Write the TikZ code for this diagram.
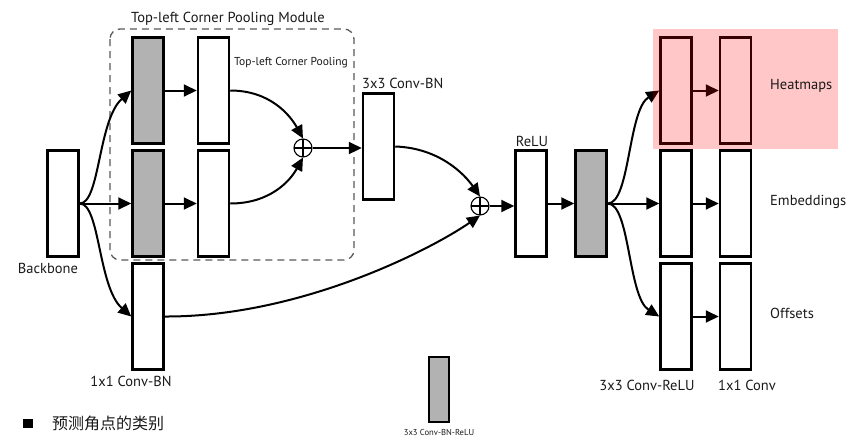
\documentclass[tikz,border=0pt]{standalone}
\usepackage{fontspec}
\setmainfont{PT Sans}
\newfontfamily\cjkfont{Noto Sans CJK SC}
\usetikzlibrary{arrows.meta}

\begin{document}
\begin{tikzpicture}[x=1pt, y=-1pt,
  box/.style = {draw, line width=2.5pt, fill=white, inner sep=0pt,
    minimum width=31pt, minimum height=106pt},
  graybox/.style = {box, fill=black!30},
  plus/.style = {draw, circle, line width=1.1pt, minimum size=18pt, inner sep=0pt,
    path picture={\draw[line width=1.1pt]
      (path picture bounding box.north) -- (path picture bounding box.south)
      (path picture bounding box.west) -- (path picture bounding box.east);}},
  flow/.style = {-{Triangle[length=13pt,width=12pt]}, line width=2pt},
  lbl/.style = {font=\fontsize{14.5}{17}\selectfont, inner sep=0pt, text=black!90}]
  \useasboundingbox (0,0) rectangle (857,440);

  % module frame
  \draw[dashed, dash pattern=on 7pt off 5pt, line width=1.3pt, black!65, rounded corners=10pt]
    (110,29) rectangle (354,260);
  \node[lbl] (modtitle) at (228,19) {Top-left Corner Pooling Module};
  \node[lbl, font=\fontsize{11.5}{13}\selectfont, anchor=west] (pooltitle) at (234,63) {Top-left Corner Pooling};

  % boxes
  \node[box] (backbone) at (63,203.5) {};
  \node[graybox] (gray1) at (148,90.5) {};
  \node[graybox] (gray2) at (148,203.5) {};
  \node[box] (conv1bn) at (148,316.5) {};
  \node[box] (pool1) at (213.5,90.5) {};
  \node[box] (pool2) at (213.5,203.5) {};
  \node[plus] (plus1) at (303,148) {};
  \node[box] (conv3bn) at (378.5,146.5) {};
  \node[plus] (plus2) at (480,206) {};
  \node[box] (relu) at (531,203.5) {};
  \node[graybox] (gray3) at (591,203.5) {};
  \node[box] (heatA) at (676,90.5) {};
  \node[box] (heatB) at (735.5,90.5) {};
  \node[box] (embA) at (676,203.5) {};
  \node[box] (embB) at (735.5,203.5) {};
  \node[box] (offA) at (676,316.5) {};
  \node[box] (offB) at (735.5,316.5) {};

  % connectors
  \draw[flow] (backbone.east) -- (gray2.west);
  \draw[flow] (backbone.east) .. controls (100,203.5) and (98,120) .. (gray1.west);
  \draw[flow] (backbone.east) .. controls (100,203.5) and (98,287) .. (conv1bn.west);
  \draw[flow] (gray1.east) -- (pool1.west);
  \draw[flow] (gray2.east) -- (pool2.west);
  \draw[flow] (pool1.east) .. controls (270,90.5) and (290,115) .. (plus1.north);
  \draw[flow] (pool2.east) .. controls (270,203.5) and (290,181) .. (plus1.south);
  \draw[flow] (plus1.east) -- (plus1.east -| conv3bn.west);
  \draw[flow] (conv3bn.east) .. controls (440,148) and (465,175) .. (plus2.north);
  \draw[flow] (conv1bn.east) .. controls (300,317) and (430,250) .. (plus2.south);
  \draw[flow] (plus2.east) -- (plus2.east -| relu.west);
  \draw[flow] (relu.east) -- (gray3.west);
  \draw[flow] (gray3.east) .. controls (630,203.5) and (628,110) .. (heatA.west);
  \draw[flow] (gray3.east) -- (embA.west);
  \draw[flow] (gray3.east) .. controls (630,203.5) and (628,297) .. (offA.west);
  \draw[flow] (heatA.east) -- (heatB.west);
  \draw[flow] (embA.east) -- (embB.west);
  \draw[flow] (offA.east) -- (offB.west);

  % highlight
  \fill[red, fill opacity=0.22] (653,29) rectangle (838,149);

  % labels
  \node[lbl] (backbonelbl) at (48,268) {Backbone};
  \node[lbl] (conv1lbl) at (131,381) {1x1 Conv-BN};
  \node[lbl, anchor=west] (conv3lbl) at (362,83) {3x3 Conv-BN};
  \node[lbl] (relulbl) at (532,141) {ReLU};
  \node[lbl, anchor=west] (heatlbl) at (770,86) {Heatmaps};
  \node[lbl, anchor=west] (emblbl) at (770,202) {Embeddings};
  \node[lbl, anchor=west] (offlbl) at (770,313) {Offsets};
  \node[lbl] (convrelulbl) at (647,385) {3x3 Conv-ReLU};
  \node[lbl] (convlbl) at (747,385) {1x1 Conv};

  % legend
  \node[draw, line width=1.8pt, fill=black!30, minimum width=20pt, minimum height=65pt, inner sep=0pt]
    (legendbox) at (439,389.5) {};
  \node[lbl, font=\fontsize{8.6}{10}\selectfont] (legendlbl) at (439,432) {3x3 Conv-BN-ReLU};
  \node[fill=black, minimum width=10pt, minimum height=9pt, inner sep=0pt] (bullet) at (28,423.5) {};
  \node[lbl, anchor=west, font=\cjkfont\fontsize{16}{18}\selectfont] (classlbl) at (52,423) {预测角点的类别};
\end{tikzpicture}
\end{document}
